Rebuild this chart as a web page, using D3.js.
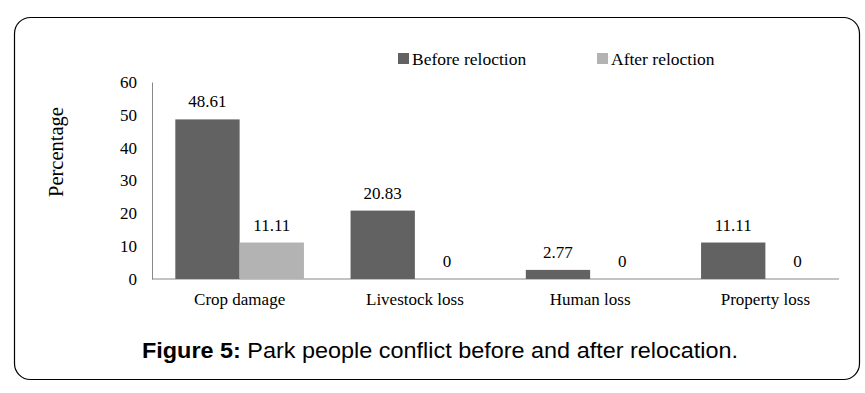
<!DOCTYPE html>
<html>
<head>
<meta charset="utf-8">
<script src="https://cdn.jsdelivr.net/npm/d3@7"></script>
<style>
  body { margin: 0; background: #fff; }
  .serif { font-family: "Liberation Serif", "Times New Roman", serif; fill: #000; }
</style>
</head>
<body>
<div id="chart-div"></div>
<script>
const categories = ["Crop damage", "Livestock loss", "Human loss", "Property loss"];
const seriesNames = ["Before reloction", "After reloction"];
const beforeValues = [48.61, 20.83, 2.77, 11.11];
const afterValues = [11.11, 0, 0, 0];
const yTicks = [0, 10, 20, 30, 40, 50, 60];
const colors = ["#626262", "#b3b3b3"];

const width = 865;
const height = 393;

const rows = categories.map((c, i) => ({ name: c, values: [beforeValues[i], afterValues[i]] }));

const svg = d3.select("#chart-div")
    .append("svg")
    .attr("width", width)
    .attr("height", height);

// rounded frame
svg.append("rect")
    .attr("x", 14.5).attr("y", 17.5)
    .attr("width", 845).attr("height", 362)
    .attr("rx", 16).attr("ry", 16)
    .style("fill", "none")
    .style("stroke", "#000")
    .style("stroke-width", 1.2);

const xScale = d3.scaleBand()
    .domain(categories)
    .range([152, 853]);

const xInner = d3.scaleBand()
    .domain([0, 1])
    .range([xScale.bandwidth() * 0.133, xScale.bandwidth() * 0.867]);

const yScale = d3.scaleLinear()
    .domain([0, 60])
    .range([279, 82]);

// y axis: line + labels, no tick marks
const yAxis = svg.append("g")
    .attr("transform", "translate(152,0)")
    .call(d3.axisLeft(yScale).tickValues(yTicks).tickSize(0).tickPadding(15));
yAxis.select(".domain").attr("stroke", "#888");
yAxis.selectAll("text")
    .attr("class", "serif")
    .style("font-size", "17px")
    .attr("fill", "#000");

// x axis line
svg.append("line")
    .attr("x1", 152).attr("x2", 839)
    .attr("y1", yScale(0)).attr("y2", yScale(0))
    .style("stroke", "#888")
    .style("stroke-width", 1.2);

const groups = svg.selectAll("g.cat").data(rows).enter().append("g")
    .attr("class", "cat")
    .attr("transform", d => "translate(" + xScale(d.name) + ",0)");

groups.selectAll("rect").data(d => d.values).enter().append("rect")
    .attr("x", (d, i) => xInner(i))
    .attr("width", xInner.bandwidth())
    .attr("y", d => yScale(d))
    .attr("height", d => yScale(0) - yScale(d))
    .style("fill", (d, i) => colors[i]);

groups.selectAll("text.val").data(d => d.values).enter().append("text")
    .attr("class", "val serif")
    .text(d => d)
    .attr("x", (d, i) => xInner(i) + xInner.bandwidth() / 2)
    .attr("y", d => yScale(d) - 12)
    .attr("text-anchor", "middle")
    .style("font-size", "17px");

// category labels
svg.selectAll("text.cat-label").data(categories).enter().append("text")
    .attr("class", "cat-label serif")
    .text(d => d)
    .attr("x", d => xScale(d) + xScale.bandwidth() / 2)
    .attr("y", 305)
    .attr("text-anchor", "middle")
    .style("font-size", "17px");

// y title
svg.append("text")
    .attr("class", "serif")
    .text("Percentage")
    .attr("transform", "translate(63,152) rotate(-90)")
    .attr("text-anchor", "middle")
    .style("font-size", "20.5px");

// legend
const legendX = [398, 597];
const legend = svg.selectAll("g.legend").data(seriesNames).enter().append("g")
    .attr("class", "legend")
    .attr("transform", (d, i) => "translate(" + legendX[i] + ",53)");
legend.append("rect")
    .attr("width", 11).attr("height", 11)
    .style("fill", (d, i) => colors[i]);
legend.append("text")
    .attr("class", "serif")
    .text(d => d)
    .attr("x", 14)
    .attr("y", 12)
    .style("font-size", "17.5px");

// caption
const caption = svg.append("text")
    .attr("x", 142)
    .attr("y", 358)
    .attr("textLength", 596)
    .attr("lengthAdjust", "spacingAndGlyphs")
    .style("font-family", "'Liberation Sans', Arial, sans-serif")
    .style("font-size", "22px")
    .style("fill", "#000");
caption.append("tspan").style("font-weight", "bold").text("Figure 5:");
caption.append("tspan").text(" Park people conflict before and after relocation.");
</script>
</body>
</html>
